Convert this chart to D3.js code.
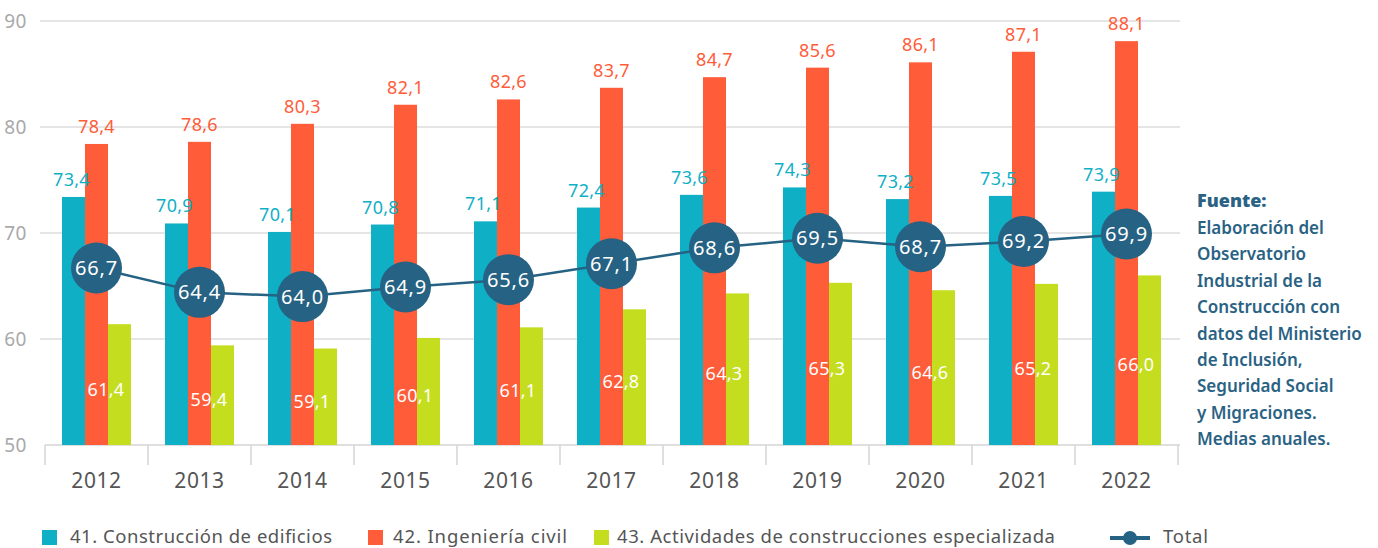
<!DOCTYPE html>
<html><head><meta charset="utf-8">
<script src="https://cdn.jsdelivr.net/npm/d3@7"></script>
<style>body{margin:0;background:#fff}svg{display:block}</style>
</head><body>
<script>
const years = ["2012","2013","2014","2015","2016","2017","2018","2019","2020","2021","2022"];
const edificios = [73.4,70.9,70.1,70.8,71.1,72.4,73.6,74.3,73.2,73.5,73.9];
const ingenieria = [78.4,78.6,80.3,82.1,82.6,83.7,84.7,85.6,86.1,87.1,88.1];
const especializada = [61.4,59.4,59.1,60.1,61.1,62.8,64.3,65.3,64.6,65.2,66.0];
const total = [66.7,64.4,64.0,64.9,65.6,67.1,68.6,69.5,68.7,69.2,69.9];
const yTicks = [50,60,70,80,90];
const seriesNames = ["41. Construcción de edificios","42. Ingeniería civil","43. Actividades de construcciones especializada","Total"];
const sourceLines = ["Elaboración del","Observatorio","Industrial de la","Construcción con","datos del Ministerio","de Inclusión,","Seguridad Social","y Migraciones.","Medias anuales."];

const C = {cyan:"#0fb0c6", orange:"#ff5c3a", green:"#c5dd1f", navy:"#256283"};
const font = "'Noto Sans',sans-serif";
const fmt = v => d3.format(".1f")(v).replace(".", ",");

const W=1378,H=548;
const svg = d3.select("body").append("svg").attr("width",W).attr("height",H).style("font-family",font);

const x = d3.scaleBand().domain(years).range([45,1178]);
const y = d3.scaleLinear().domain([50,90]).range([445,21]);
const inner = d3.scaleBand().domain([0,1,2]).range([17, x.bandwidth()-17]);

// grid
svg.append("g").selectAll("line").data(yTicks.filter(t=>t>50)).join("line")
  .attr("x1",40).attr("x2",1180).attr("y1",d=>y(d)).attr("y2",d=>y(d))
  .attr("stroke","#dcdcdc").attr("stroke-width",1.5);
svg.append("g").selectAll("text").data(yTicks).join("text")
  .attr("x",27).attr("y",d=>y(d)+7).attr("text-anchor","end")
  .attr("fill","#a9a9a9").attr("font-size",19).attr("letter-spacing","0.5").text(d=>d);

// axis
const ax = svg.append("g").attr("transform",`translate(0,${y(50)})`)
  .call(d3.axisBottom(x).tickSize(0).tickPadding(28));
ax.select(".domain").remove();
ax.selectAll("text").attr("font-size",21).attr("fill","#555").style("font-family",font).attr("letter-spacing","0.6");
svg.append("line").attr("x1",45).attr("x2",1180).attr("y1",y(50)).attr("y2",y(50)).attr("stroke","#d5d5d5").attr("stroke-width",1.5);
svg.append("g").selectAll("line").data(d3.range(years.length+1)).join("line")
  .attr("x1",i=>45+i*x.step()).attr("x2",i=>45+i*x.step())
  .attr("y1",y(50)).attr("y2",y(50)+20).attr("stroke","#d5d5d5").attr("stroke-width",1.5);

const series = [edificios, ingenieria, especializada];
const cols = [C.cyan, C.orange, C.green];
series.forEach((s,k)=>{
  svg.append("g").selectAll("rect").data(s).join("rect")
    .attr("x",(d,i)=>x(years[i])+inner(k)).attr("width",inner.bandwidth())
    .attr("y",d=>y(d)).attr("height",d=>y(50)-y(d)).attr("fill",cols[k]);
});
// labels
svg.append("g").selectAll("text").data(edificios).join("text")
  .attr("x",(d,i)=>x(years[i])+inner(0)+inner.bandwidth()/2-2).attr("y",d=>y(d)-11)
  .attr("text-anchor","middle").attr("fill",C.cyan).attr("font-size",18).attr("letter-spacing","0.3").text(fmt);
svg.append("g").selectAll("text").data(ingenieria).join("text")
  .attr("x",(d,i)=>x(years[i])+inner(1)+inner.bandwidth()/2).attr("y",d=>y(d)-11)
  .attr("text-anchor","middle").attr("fill",C.orange).attr("font-size",18).attr("letter-spacing","0.3").text(fmt);
svg.append("g").selectAll("text").data(especializada).join("text")
  .attr("x",(d,i)=>x(years[i])+inner(2)-2).attr("y",d=>(y(d)+y(50))/2+11)
  .attr("text-anchor","middle").attr("fill","#fff").attr("font-size",18).attr("letter-spacing","0.3").text(fmt);

// total line
const cx = i=>x(years[i])+x.bandwidth()/2;
svg.append("path").datum(total)
  .attr("d",d3.line().x((d,i)=>cx(i)).y(d=>y(d)))
  .attr("fill","none").attr("stroke",C.navy).attr("stroke-width",2.5);
svg.append("g").selectAll("circle").data(total).join("circle")
  .attr("cx",(d,i)=>cx(i)).attr("cy",d=>y(d)).attr("r",25.5).attr("fill",C.navy);
svg.append("g").selectAll("text").data(total).join("text")
  .attr("x",(d,i)=>cx(i)).attr("y",d=>y(d)+7).attr("text-anchor","middle")
  .attr("fill","#fff").attr("font-size",20).attr("letter-spacing","0.8").text(fmt);

// source
const src = svg.append("text").attr("x",1197).attr("fill","#2a6284").attr("font-size",17).attr("font-weight",600);
src.append("tspan").attr("x",1197).attr("y",207).attr("font-weight",900).attr("font-size",18).text("Fuente:");
sourceLines.forEach((t,i)=>src.append("tspan").attr("x",1197).attr("y",234+i*26.4).text(t));

// legend
const lg = svg.append("g").attr("font-size",18.5).attr("fill","#555");
const items = [{x:42,tx:70,w:262,c:C.cyan},{x:368,tx:393,w:174,c:C.orange},{x:594,tx:617,w:438,c:C.green}];
items.forEach((it,i)=>{
  lg.append("rect").attr("x",it.x).attr("y",530).attr("width",15).attr("height",15).attr("fill",it.c);
  lg.append("text").attr("x",it.tx).attr("y",543).attr("textLength",it.w).attr("lengthAdjust","spacing").text(seriesNames[i]);
});
lg.append("line").attr("x1",1110).attr("x2",1150).attr("y1",538).attr("y2",538).attr("stroke",C.navy).attr("stroke-width",4);
lg.append("circle").attr("cx",1130).attr("cy",538).attr("r",7).attr("fill",C.navy);
lg.append("text").attr("x",1163).attr("y",543).attr("textLength",45).attr("lengthAdjust","spacing").text(seriesNames[3]);
</script>
</body></html>
